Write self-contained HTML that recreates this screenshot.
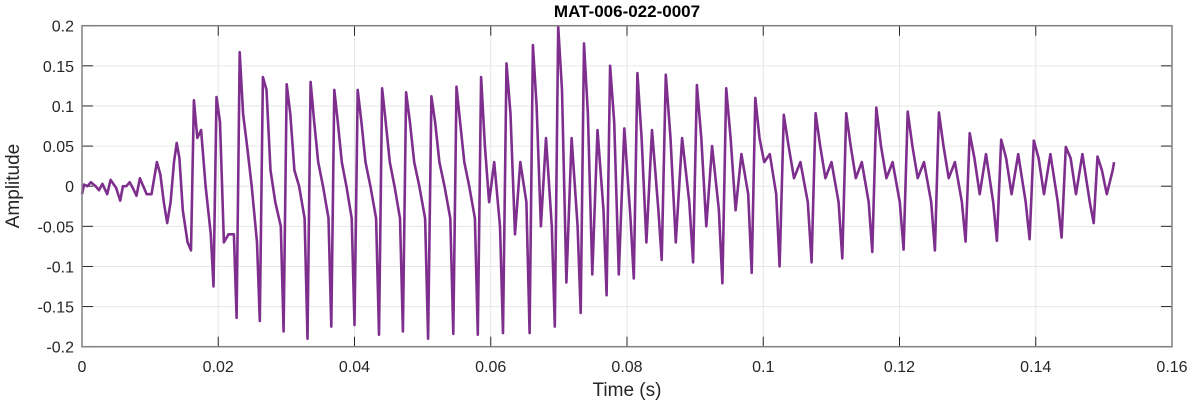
<!DOCTYPE html>
<html><head><meta charset="utf-8"><style>
html,body{margin:0;padding:0;background:#fff;}
svg text{font-family:"Liberation Sans",Arial,sans-serif;fill:#262626;}
</style></head><body>
<svg id="chart" width="1193" height="404" viewBox="0 0 1193 404" xmlns="http://www.w3.org/2000/svg">
<rect x="0" y="0" width="1193" height="404" fill="#fff"/>
<g id="grid"></g>
<g id="ticks"></g>
<polyline id="wave" fill="none" stroke="#7E2F8E" stroke-width="2.6" stroke-linejoin="round"/>
<rect x="82" y="25.7" width="1090" height="321" fill="none" stroke="#808080" stroke-width="1.5"/>
<text x="627" y="17" text-anchor="middle" font-size="17" font-weight="bold" style="fill:#000">MAT-006-022-0007</text>
<text x="627" y="396" text-anchor="middle" font-size="19">Time (s)</text>
<text transform="translate(19,186) rotate(-90)" text-anchor="middle" font-size="19">Amplitude</text>
</svg>
<script>
const xTicks=[0,0.02,0.04,0.06,0.08,0.1,0.12,0.14,0.16];
const xTickLabels=["0","0.02","0.04","0.06","0.08","0.1","0.12","0.14","0.16"];
const yTicks=[0.2,0.15,0.1,0.05,0,-0.05,-0.1,-0.15,-0.2];
const yTickLabels=["0.2","0.15","0.1","0.05","0","-0.05","-0.1","-0.15","-0.2"];
// onset (before first glottal cycle): time in ms, amplitude
const onsetTimesMs=[0,0.3,0.8,1.3,2.0,2.5,3.0,3.7,4.2,5.0,5.6,6.0,6.5,7.0,7.5,8.0,8.5,9.5,10.2,10.6,11.0,11.5,12.0,12.5,13.0,13.5,13.9,14.3,14.8,15.5];
const onsetAmps=[-0.01,0.002,0.0,0.005,0.0,-0.005,0.003,-0.01,0.008,-0.002,-0.018,0.0,0.0,0.005,-0.003,-0.012,0.01,-0.01,-0.01,0.01,0.03,0.015,-0.02,-0.046,-0.02,0.03,0.054,0.035,-0.03,-0.07];
// per-cycle values
const troughTimesMs=[16.0,19.3,22.7,26.1,29.6,33.1,36.6,40.0,43.6,47.1,50.8,54.5,58.1,61.8,65.7,69.4,73.2,77.0,81.0,85.1,89.7,94.0,98.3,102.4,107.1,111.6,116.0,120.6,125.2,129.7,134.3,139.1,143.8,148.5];
const troughAmps=[-0.08,-0.125,-0.164,-0.168,-0.181,-0.19,-0.175,-0.173,-0.185,-0.181,-0.19,-0.184,-0.185,-0.183,-0.183,-0.175,-0.158,-0.136,-0.115,-0.092,-0.095,-0.121,-0.108,-0.1,-0.095,-0.09,-0.082,-0.079,-0.08,-0.069,-0.068,-0.066,-0.064,-0.046];
const peakAmps=[0.107,0.111,0.167,0.136,0.127,0.13,0.12,0.12,0.122,0.117,0.112,0.124,0.136,0.153,0.176,0.199,0.178,0.15,0.141,0.139,0.126,0.122,0.11,0.089,0.091,0.091,0.098,0.093,0.092,0.066,0.058,0.057,0.049,0.037];
const shoulderAmps=[0.06,0.08,0.09,0.12,0.09,0.08,0.08,0.08,0.08,0.08,0.08,0.08,0.05,0.09,0.10,0.12,0.09,0.08,0.06,0.06,0.06,0.06,0.06,0.05,0.05,0.05,0.05,0.05,0.05,0.035,0.035,0.035,0.035,0.02];
const dipAmps=[0.07,-0.07,0.05,0.02,0.02,0.03,0.03,0.03,0.03,0.03,0.03,0.03,-0.02,-0.06,-0.05,-0.12,-0.11,-0.11,-0.07,-0.07,-0.05,-0.03,0.03,0.01,0.01,0.01,0.01,0.01,0.01,-0.01,-0.01,-0.01,-0.01,-0.01];
const secondAmps=[0.0,-0.06,0.0,-0.02,0.0,0.0,0.0,0.0,0.0,0.0,0.0,0.0,0.03,0.03,0.06,0.06,0.07,0.072,0.07,0.06,0.05,0.04,0.04,0.03,0.03,0.03,0.03,0.03,0.03,0.04,0.04,0.04,0.04,0.02];
const preDropAmps=[-0.06,-0.06,-0.07,-0.05,-0.04,-0.04,-0.04,-0.04,-0.04,-0.04,-0.04,-0.04,-0.05,-0.02,-0.05,-0.05,-0.03,-0.04,-0.03,-0.02,-0.03,-0.01,-0.01,-0.02,-0.02,-0.02,-0.02,-0.02,-0.02,-0.02,-0.02,-0.02,-0.02,0.0];
const endTimeMs=151.5, endAmp=0.03;

const L=82,R=1172,T=25.7,B=346.7;
function xs(t){return L+(t-0)/(0.16-0)*(R-L);}
function ys(v){return B-(v+0.2)/0.4*(B-T);}
const NS="http://www.w3.org/2000/svg";
const grid=document.getElementById('grid'),ticks=document.getElementById('ticks');
function mk(tag,attrs,parent){const e=document.createElementNS(NS,tag);for(const k in attrs)e.setAttribute(k,attrs[k]);parent.appendChild(e);return e;}
xTicks.forEach((t,i)=>{
  const x=xs(t);
  const g=mk('line',{x1:x,x2:x,y1:T,y2:B,stroke:'#e6e6e6','stroke-width':1},grid);
  
  
  const a=mk('line',{x1:x,x2:x,y1:B,y2:B-10,stroke:'#262626','stroke-width':1},ticks);
  
  
  const b=mk('line',{x1:x,x2:x,y1:T,y2:T+10,stroke:'#262626','stroke-width':1},ticks);
  
  
  const tx=mk('text',{x:x,y:372,'text-anchor':'middle','font-size':16},ticks);
  tx.textContent=xTickLabels[i];
  
  
});
yTicks.forEach((v,i)=>{
  const y=ys(v);
  const g=mk('line',{x1:L,x2:R,y1:y,y2:y,stroke:'#e6e6e6','stroke-width':1},grid);
  
  
  const a=mk('line',{x1:L,x2:L+11,y1:y,y2:y,stroke:'#262626','stroke-width':1},ticks);
  
  
  const b=mk('line',{x1:R-11,x2:R,y1:y,y2:y,stroke:'#262626','stroke-width':1},ticks);
  
  
  const tx=mk('text',{x:74,y:y+6,'text-anchor':'end','font-size':16},ticks);
  tx.textContent=yTickLabels[i];
  
  
});
const pts=[];
onsetTimesMs.forEach((t,i)=>pts.push([t,onsetAmps[i]]));
const fr=[0.13,0.28,0.45,0.65,0.88];
troughTimesMs.forEach((t0,i)=>{
  const t1=i+1<troughTimesMs.length?troughTimesMs[i+1]:endTimeMs+1.3;
  const P=t1-t0;
  pts.push([t0,troughAmps[i]]);
  const vals=[peakAmps[i],shoulderAmps[i],dipAmps[i],secondAmps[i],preDropAmps[i]];
  vals.forEach((v,k)=>{const tt=t0+fr[k]*P; if(tt<=endTimeMs) pts.push([tt,v]);});
});
pts.push([endTimeMs,endAmp]);
document.getElementById('wave').setAttribute('points',pts.map(p=>xs(p[0]/1000).toFixed(1)+','+ys(p[1]).toFixed(1)).join(' '));
</script>
</body></html>
